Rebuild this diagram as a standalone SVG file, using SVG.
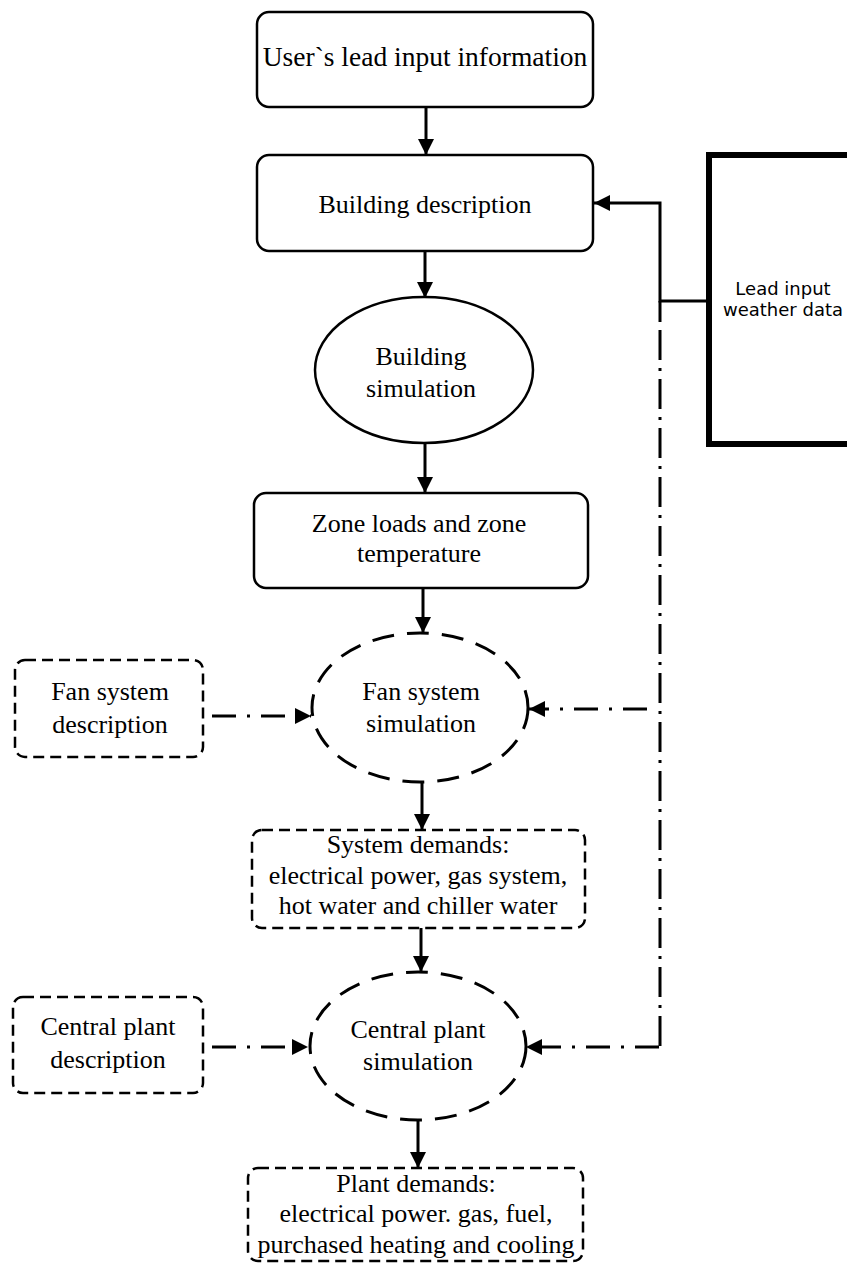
<svg xmlns="http://www.w3.org/2000/svg" width="847" height="1264" viewBox="0 0 847 1264">
<style>
  .t { font-family: "Liberation Serif", "Times New Roman", serif; font-size: 26px; fill: #000; text-anchor: middle; }
  .s { font-family: "DejaVu Sans", "Liberation Sans", sans-serif; font-size: 18px; fill: #000; text-anchor: middle; }
  .box { fill: #fff; stroke: #000; stroke-width: 2.5; }
  .dbox { fill: #fff; stroke: #000; stroke-width: 2.5; stroke-dasharray: 11 6; }
  .ell { fill: #fff; stroke: #000; stroke-width: 2.5; }
  .dell { fill: #fff; stroke: #000; stroke-width: 3; stroke-dasharray: 22 13; }
  .arr { fill: none; stroke: #000; stroke-width: 3; marker-end: url(#ah); }
  .sol { fill: none; stroke: #000; stroke-width: 3; }
  .dd { fill: none; stroke: #000; stroke-width: 3; stroke-dasharray: 24 11 3 11; }
  .ddv { fill: none; stroke: #000; stroke-width: 3; stroke-dasharray: 30 8 3 8; }
</style>
<defs>
  <marker id="ah" viewBox="0 0 16 16" refX="16" refY="8" markerWidth="16" markerHeight="16" markerUnits="userSpaceOnUse" orient="auto">
    <path d="M0,0 L16,8 L0,16 z" fill="#000"/>
  </marker>
</defs>
<rect width="847" height="1264" fill="#fff"/>

<g id="connectors">
  <path class="arr" d="M426,107 V155"/>
  <path class="arr" d="M425,251 V298"/>
  <path class="arr" d="M425,443 V493"/>
  <path class="arr" d="M423,588 V633"/>
  <path class="arr" d="M422,782 V830"/>
  <path class="arr" d="M421,928 V972"/>
  <path class="arr" d="M418,1120 V1168"/>
  <path class="arr" d="M709,301 H660 V203 H594"/>
  <path class="sol" d="M660,301 V322"/>
  <path class="ddv" d="M660,330 V1047"/>
  <path class="dd" d="M659,1047 H526" marker-end="url(#ah)"/>
  <path class="dd" d="M647,709 H529" marker-end="url(#ah)"/>
  <path class="dd" d="M212,716 H311" marker-end="url(#ah)"/>
  <path class="dd" d="M212,1047 H308" marker-end="url(#ah)"/>
</g>

<g id="user-input">
  <rect class="box" x="257" y="12" width="336" height="95" rx="12"/>
  <text class="t" x="425" y="66" style="font-size:27.5px">User`s lead input information</text>
</g>

<g id="building-description">
  <rect class="box" x="257" y="155" width="336" height="96" rx="12"/>
  <text class="t" x="425" y="213">Building description</text>
</g>

<g id="weather-data">
  <rect x="709" y="155" width="200" height="289" fill="#fff" stroke="#000" stroke-width="6"/>
  <text class="s" x="783" y="295">Lead input</text>
  <text class="s" x="783" y="316">weather data</text>
</g>

<g id="building-simulation">
  <ellipse class="ell" cx="424" cy="370" rx="109" ry="73"/>
  <text class="t" x="421" y="365">Building</text>
  <text class="t" x="421" y="397">simulation</text>
</g>

<g id="zone-loads">
  <rect class="box" x="254" y="493" width="334" height="95" rx="12"/>
  <text class="t" x="419" y="532">Zone loads and zone</text>
  <text class="t" x="419" y="562">temperature</text>
</g>

<g id="fan-description">
  <rect class="dbox" x="15" y="660" width="188" height="97" rx="10"/>
  <text class="t" x="110" y="700">Fan system</text>
  <text class="t" x="110" y="733">description</text>
</g>

<g id="fan-simulation">
  <ellipse class="dell" cx="420" cy="707.5" rx="108" ry="74.5"/>
  <text class="t" x="421" y="700">Fan system</text>
  <text class="t" x="421" y="732">simulation</text>
</g>

<g id="system-demands">
  <rect class="dbox" x="252" y="830" width="333" height="98" rx="10"/>
  <text class="t" x="418" y="853">System demands:</text>
  <text class="t" x="418" y="884">electrical power, gas system,</text>
  <text class="t" x="418" y="914">hot water and chiller water</text>
</g>

<g id="central-description">
  <rect class="dbox" x="13" y="997" width="190" height="96" rx="10"/>
  <text class="t" x="108" y="1035">Central plant</text>
  <text class="t" x="108" y="1068">description</text>
</g>

<g id="central-simulation">
  <ellipse class="dell" cx="418" cy="1046" rx="108" ry="74"/>
  <text class="t" x="418" y="1038">Central plant</text>
  <text class="t" x="418" y="1070">simulation</text>
</g>

<g id="plant-demands">
  <rect class="dbox" x="248" y="1168" width="335" height="93" rx="10"/>
  <text class="t" x="416" y="1192">Plant demands:</text>
  <text class="t" x="416" y="1222">electrical power. gas, fuel,</text>
  <text class="t" x="416" y="1253">purchased heating and cooling</text>
</g>
</svg>
